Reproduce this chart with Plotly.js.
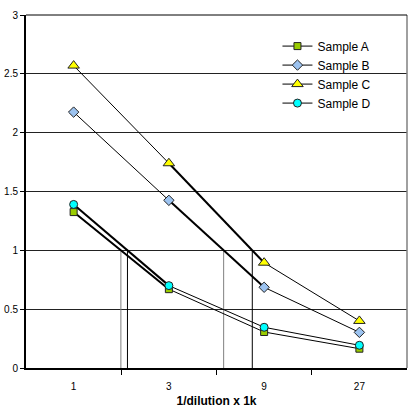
<!DOCTYPE html>
<html>
<head>
<meta charset="utf-8">
<script src="https://cdn.plot.ly/plotly-3.0.1.min.js"></script>
<style>
  html, body { margin: 0; padding: 0; background: #fff; }
  #chart { width: 415px; height: 416px; }
</style>
</head>
<body>
<div id="chart"></div>
<script>
// dilution categories (x) and absorbance readings per sample
const dilutions = ["1", "3", "9", "27"];
const sampleA = [1.325, 0.67, 0.306, 0.164];
const sampleB = [2.175, 1.425, 0.686, 0.303];
const sampleC = [2.57, 1.74, 0.895, 0.40];
const sampleD = [1.39, 0.70, 0.346, 0.193];
const threshold = 1;

const xs = dilutions.map((_, i) => i);

const series = [
  { name: "Sample A", y: sampleA, symbol: "square", size: 7, color: "#99CC00", drop: "#808080" },
  { name: "Sample B", y: sampleB, symbol: "diamond", size: 8, color: "#9CC3F0", drop: "#808080" },
  { name: "Sample C", y: sampleC, symbol: "triangle-up", size: 10, color: "#FFFF00", drop: "#000000" },
  { name: "Sample D", y: sampleD, symbol: "circle", size: 8, color: "#00FFFF", drop: "#000000" },
];

// where each curve crosses the threshold: segment index + interpolated x
function crossing(vals) {
  for (let i = 0; i < vals.length - 1; i++) {
    if ((vals[i] - threshold) * (vals[i + 1] - threshold) <= 0) {
      return { i, x: i + (vals[i] - threshold) / (vals[i] - vals[i + 1]) };
    }
  }
  return null;
}

const dropTraces = [];
const boldTraces = [];
series.forEach((s) => {
  const c = crossing(s.y);
  if (!c) return;
  dropTraces.push({
    x: [c.x, c.x], y: [0, threshold], mode: "lines", type: "scatter",
    line: { color: s.drop, width: 1 }, showlegend: false, hoverinfo: "skip",
  });
  boldTraces.push({
    x: [xs[c.i], xs[c.i + 1]], y: [s.y[c.i], s.y[c.i + 1]], mode: "lines", type: "scatter",
    line: { color: "#000", width: 2 }, showlegend: false, hoverinfo: "skip",
  });
});

const mainTraces = series.map((s) => ({
  x: xs, y: s.y, name: s.name, type: "scatter", mode: "lines+markers",
  line: { color: "#000", width: 1 },
  marker: { symbol: s.symbol, size: s.size, color: s.color, line: { color: "#222", width: 1 } },
}));

const layout = {
  width: 415, height: 416,
  margin: { l: 26, r: 8, t: 15, b: 48 },
  paper_bgcolor: "#fff", plot_bgcolor: "#fff",
  font: { family: "Liberation Sans, Arial, sans-serif", color: "#000", size: 10 },
  showlegend: true,
  legend: {
    x: 0.66, y: 0.953, xanchor: "left", yanchor: "top",
    bgcolor: "rgba(0,0,0,0)", borderwidth: 0,
    font: { size: 12, color: "#000" },
    tracegroupgap: 0,
  },
  xaxis: {
    range: [-0.5, 3.5],
    tickvals: xs, ticktext: dilutions,
    ticks: "", ticklabelstandoff: 8,
    showgrid: false, zeroline: false,
    showline: true, linecolor: "#000", linewidth: 2, mirror: false,
    minor: { tickvals: [0.5, 1.5, 2.5], ticks: "outside", ticklen: 5, tickcolor: "#000", showgrid: false },
    title: { text: "1/dilution x 1k", font: { size: 12, weight: "bold" }, standoff: 6 },
    fixedrange: true,
  },
  yaxis: {
    range: [0, 3],
    dtick: 0.5, tick0: 0,
    ticks: "outside", ticklen: 4, tickcolor: "#000",
    showgrid: true, gridcolor: "#222", gridwidth: 1,
    zeroline: false,
    showline: true, linecolor: "#000", linewidth: 2,
    fixedrange: true,
  },
  shapes: [
    // legend background hides the gridline behind it
    { type: "rect", xref: "paper", yref: "y", x0: 0.601, x1: 0.937, y0: 2.25, y1: 2.8,
      fillcolor: "#fff", line: { width: 0 }, layer: "between" },
    // right frame
    { type: "line", xref: "paper", yref: "paper", x0: 1, x1: 1, y0: 0, y1: 1,
      line: { color: "#808080", width: 1.5 } },
    // top frame
    { type: "line", xref: "paper", yref: "paper", x0: 0, x1: 1, y0: 1, y1: 1,
      line: { color: "#000", width: 1 } },
  ],
};

Plotly.newPlot("chart", [...dropTraces, ...boldTraces, ...mainTraces], layout, { displayModeBar: false, staticPlot: true });
</script>
</body>
</html>
